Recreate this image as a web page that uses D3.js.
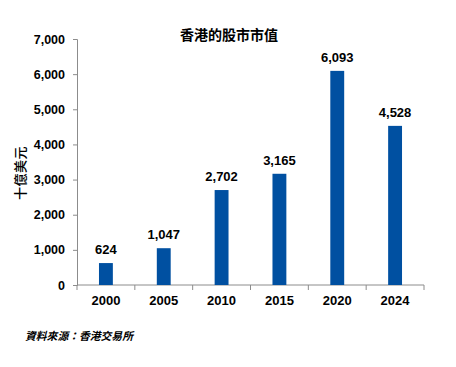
<!DOCTYPE html>
<html><head><meta charset="utf-8">
<script src="https://cdn.jsdelivr.net/npm/d3@7"></script>
<style>body{margin:0;background:#fff}svg{display:block}</style>
</head><body>
<script>
const categories = ["2000","2005","2010","2015","2020","2024"];
const values = [624, 1047, 2702, 3165, 6093, 4528];
const yTicks = [0,1000,2000,3000,4000,5000,6000,7000];
const title = "香港的股市市值";
const yTitle = "十億美元";
const source = "資料來源：香港交易所";

const W = 456, H = 367;
const m = {left: 77, right: 32, top: 39, bottom: 82};
const svg = d3.select("body").append("svg").attr("width", W).attr("height", H);

const x = d3.scaleBand().domain(categories).range([m.left, W - m.right]).paddingInner(0.76).paddingOuter(0.38);
const y = d3.scaleLinear().domain([0, 7000]).range([H - m.bottom, m.top]);

const fmt = d3.format(",");
const axisCol = "#8c8c8c";

// y axis
const ya = svg.append("g").attr("transform", `translate(${m.left},0)`)
  .call(d3.axisLeft(y).tickValues(yTicks).tickFormat(fmt).tickSize(4).tickPadding(8));
ya.select(".domain").attr("stroke", axisCol);
ya.selectAll(".tick line").attr("stroke", axisCol);
ya.selectAll("text").attr("font-family", "Liberation Sans, Arial, sans-serif").attr("font-weight", "bold").attr("font-size", 12.5).attr("fill", "#000");

// x axis with ticks at band boundaries
const xa = svg.append("g").attr("transform", `translate(0,${y(0)})`);
const x0 = m.left, x1 = W - m.right;
xa.append("line").attr("x1", x0).attr("x2", x1).attr("stroke", axisCol);
const step = (x1 - x0) / categories.length;
d3.range(categories.length + 1).forEach(i => {
  xa.append("line").attr("x1", x0 + i*step).attr("x2", x0 + i*step).attr("y1", 0).attr("y2", 5).attr("stroke", axisCol);
});
xa.selectAll("text.xl").data(categories).join("text").attr("class","xl")
  .attr("x", d => x(d) + x.bandwidth()/2).attr("y", 20)
  .attr("text-anchor","middle")
  .attr("font-family", "Liberation Sans, Arial, sans-serif").attr("font-weight","bold").attr("font-size", 13)
  .text(d => d);

// bars
svg.selectAll("rect.bar").data(values).join("rect").attr("class","bar")
  .attr("x", (d,i) => x(categories[i])).attr("width", x.bandwidth())
  .attr("y", d => y(d)).attr("height", d => y(0) - y(d))
  .attr("fill", "#0050A1");

// data labels
svg.selectAll("text.dl").data(values).join("text").attr("class","dl")
  .attr("x", (d,i) => x(categories[i]) + x.bandwidth()/2).attr("y", d => y(d) - 9)
  .attr("text-anchor","middle")
  .attr("font-family", "Liberation Sans, Arial, sans-serif").attr("font-weight","bold").attr("font-size", 13)
  .text(d => fmt(d));

// title
svg.append("text").attr("x", 229).attr("y", 40).attr("text-anchor","middle")
  .attr("font-family", "Noto Sans CJK TC, sans-serif").attr("font-weight","bold").attr("font-size", 14)
  .text(title);

// y title
svg.append("text").attr("transform", `translate(25,173) rotate(-90)`).attr("text-anchor","middle")
  .attr("font-family", "Noto Sans CJK TC, sans-serif").attr("font-weight","500").attr("font-size", 13)
  .attr("letter-spacing", 0.5)
  .text(yTitle);

// source
svg.append("text").attr("x", 25).attr("y", 340)
  .attr("font-family", "Noto Sans CJK TC, sans-serif").attr("font-style","italic").attr("font-weight","bold").attr("font-size", 10.8)
  .text(source);
</script>
</body></html>
